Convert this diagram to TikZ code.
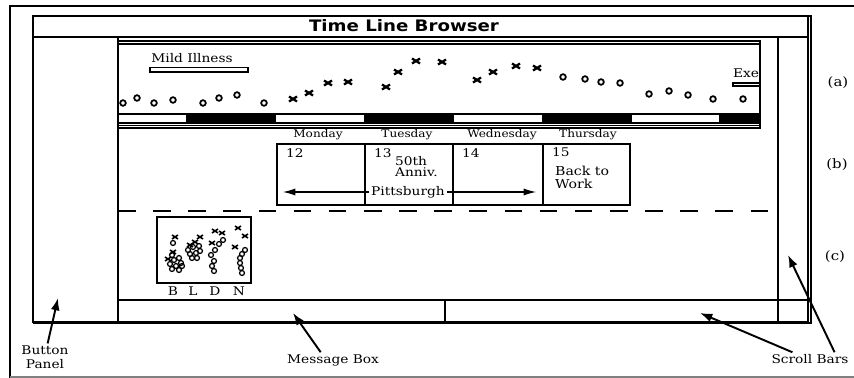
\documentclass[tikz,border=0pt]{standalone}
\usepackage{fontspec}
\setmainfont{DejaVu Serif}[FakeStretch=1.15]
\newfontfamily\titlefont{DejaVu Sans}[FakeStretch=1.15]
\usepackage{tikz}
\usetikzlibrary{arrows.meta}

\tikzset{
  thinline/.style={line width=0.6pt},
  thickbox/.style={line width=1.6pt},
  lbl/.style={font=\fontsize{6.8}{7.8}\selectfont, inner sep=1pt},
  daylbl/.style={font=\fontsize{6}{7}\selectfont, inner sep=1pt},
  callout/.style={line width=1.1pt, -{Latex[length=7pt,width=5pt]}},
  span/.style={line width=0.6pt, -{Latex[length=7pt,width=4pt]}},
  ptcircle/.style={line width=1pt},
  bigx/.pic={\draw[line width=1.3pt] (-4,-2.5) -- (4,2.5) (-4,2.5) -- (4,-2.5);},
  smallx/.pic={\draw[line width=0.9pt] (-3,-2) -- (3,2) (-3,2) -- (3,-2);}
}

\begin{document}
\begin{tikzpicture}[x=0.02cm, y=-0.02cm]
  \useasboundingbox (0,0) rectangle (854,378);
  %figure frame
  \draw[line width=1.4pt] (10,378) -- (10,6) -- (854,6);
  \draw[gray, thinline] (10,377) -- (854,377);

  %window
  \draw[line width=1pt] (33,16) rectangle (808,322);
  \draw[line width=1pt] (808,16) -- (811,16) -- (811,323) -- (33,323);
  \node[font=\titlefont\bfseries\fontsize{9}{10}\selectfont] (title) at (404,26) {Time Line Browser};
  \draw[thinline] (33,37) -- (808,37);
  \draw[thinline] (118,37) -- (118,322);
  \draw[thinline] (778,37) -- (778,322);
  \draw[thinline] (118,300) -- (808,300);
  \draw[thinline] (445,300) -- (445,322);

  %(a) time line
  \draw[thickbox] (118,41) -- (760,41) -- (760,128) -- (118,128);
  \draw[thinline] (118,44) -- (760,44);
  \draw[thinline] (118,125.5) -- (760,125.5);
  \draw[thinline] (118,114) rectangle (760,123);
  \foreach \a/\b in {186/276, 364/454, 542/632, 719/760}
    \fill (\a,114) rectangle (\b,123);
  \node[lbl] (mild) at (192,58) {Mild Illness};
  \draw[thinline, fill=white] (150,67.5) rectangle (248,72);
  \begin{scope}
    \clip (118,44) rectangle (759,114);
    \node[lbl, anchor=west] (exer) at (731,73) {Exer};
    \draw[thinline] (733,83) rectangle (775,86);
  \end{scope}
  \foreach \p in {(123,103),(137,98),(154,103),(173,100),(203,103),(219,98),(237,95),(264,103),
                  (563,77),(585,79),(601,82),(620,83),(649,94),(669,91),(688,95),(713,99),(743,99)}
    \draw[ptcircle] \p circle[radius=1.6pt];
  \foreach \p in {(293,99),(309,93),(328,83),(348,82),(386,87),(398,72),(416,61),
                  (442,62),(477,80),(493,72),(516,66),(537,68)}
    \pic at \p {bigx};
  \node[lbl, font=\fontsize{7.4}{8}\selectfont] (a) at (838,83) {(a)};

  %(b) calendar
  \node[daylbl] (mon) at (318,135) {Monday};
  \node[daylbl] (tue) at (407,135) {Tuesday};
  \node[daylbl] (wed) at (502,135) {Wednesday};
  \node[daylbl] (thu) at (588,135) {Thursday};
  \draw[thickbox] (277,144) rectangle (630,205);
  \foreach \x in {365,453,543}
    \draw[line width=1pt] (\x,144) -- (\x,205);
  \node[lbl, anchor=north west] (d12) at (284,147) {12};
  \node[lbl, anchor=north west] (d13) at (372,147) {13};
  \node[lbl, anchor=north west] (d14) at (460,147) {14};
  \node[lbl, anchor=north west] (d15) at (550,146) {15};
  \node[lbl, anchor=north west, align=left, font=\fontsize{6.8}{6.4}\selectfont] (anniv) at (393,154) {50th\\Anniv.};
  \node[lbl, anchor=north west, align=left, font=\fontsize{7}{7.6}\selectfont] (work) at (553,164) {Back to\\Work};
  \node[lbl] (pitt) at (408,192) {Pittsburgh};
  \coordinate (pittL) at (283,192);
  \coordinate (pittR) at (536,192);
  \draw[span] (pitt.west) -- (pittL);
  \draw[span] (pitt.east) -- (pittR);
  \node[lbl, font=\fontsize{7.4}{8}\selectfont] (b) at (837,165) {(b)};

  \draw[thinline, dash pattern=on 10pt off 10pt] (118,211) -- (770,211);

  %(c) meal plot
  \draw[thickbox] (157,217) rectangle (251,283);
  \foreach \p in {(173,243),(172,255),(174,260),(179,258),(181,263),(170,264),(176,266),(182,266),(172,269),(179,270),
                  (188,250),(193,247),(199,246),(190,254),(196,253),(200,251),(192,258),(197,258),
                  (219,244),(223,240),(215,250),(211,255),(214,261),(212,266),(214,271),
                  (245,250),(242,254),(240,258),(240,263),(241,268),(242,273)}
    \draw[ptcircle, line width=0.7pt] \p circle[radius=1.4pt];
  \foreach \p in {(175,237),(173,252),(168,259),(200,237),(195,242),(190,245),
                  (215,231),(222,233),(212,243),(238,228),(245,236),(235,247)}
    \pic at \p {smallx};
  \node[lbl] (lb) at (173,291) {B};
  \node[lbl] (ll) at (193,291) {L};
  \node[lbl] (ld) at (215,291) {D};
  \node[lbl] (ln) at (239,291) {N};
  \node[lbl, font=\fontsize{7.4}{8}\selectfont] (c) at (835,257) {(c)};

  %callouts
  \node[lbl, align=center, font=\fontsize{6.8}{8}\selectfont] (button) at (45,357) {Button\\Panel};
  \coordinate (buttontip) at (58,298);
  \draw[callout] ([xshift=1.5pt]button.north) -- (buttontip);
  \node[lbl] (msg) at (333,360) {Message Box};
  \coordinate (msgtip) at (293,313);
  \draw[callout] ([xshift=-7pt]msg.north) -- (msgtip);
  \node[lbl] (scroll) at (810,359) {Scroll Bars};
  \coordinate (hbartip) at (700,313);
  \coordinate (vbartip) at (788,255);
  \draw[callout] ([xshift=-10pt]scroll.north) -- (hbartip);
  \draw[callout] ([xshift=14pt]scroll.north) -- (vbartip);
\end{tikzpicture}
\end{document}
